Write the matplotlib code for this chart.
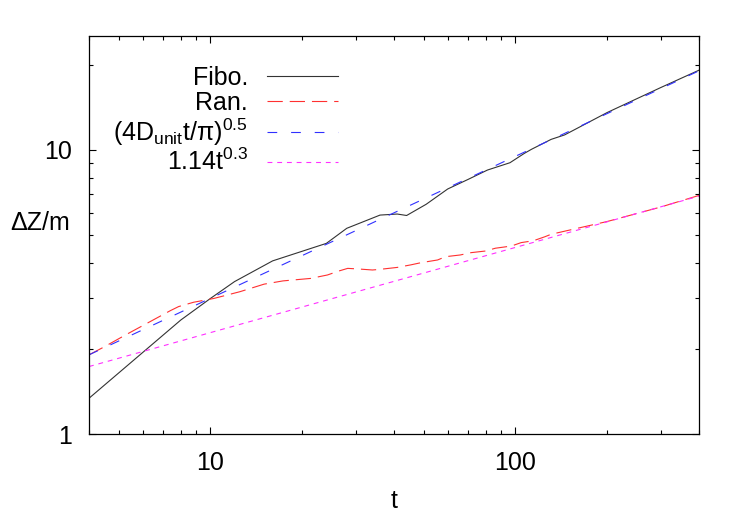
import numpy as np
import matplotlib
matplotlib.use("Agg")
import matplotlib.pyplot as plt
from matplotlib.ticker import LogLocator, NullFormatter, FixedLocator, FixedFormatter

plt.rcParams['font.family'] = ['Liberation Sans', 'DejaVu Sans']
plt.rcParams['mathtext.fontset'] = 'custom'
plt.rcParams['mathtext.rm'] = 'Liberation Sans'
plt.rcParams['mathtext.it'] = 'Liberation Sans'
plt.rcParams['lines.scale_dashes'] = False

# ---- data ----
fibo_t = [4, 8, 10, 12, 16, 24, 28, 36, 41, 44, 51, 60, 70, 81, 96, 107, 113, 131, 145, 200, 300, 400]
fibo_v = [1.336, 2.52, 3.0, 3.44, 4.07, 4.69, 5.30, 5.90, 5.95, 5.88, 6.44, 7.29, 7.88, 8.5, 9.02,
          9.73, 10.06, 10.9, 11.3, 13.55, 16.6, 19.1]

ran_t = [4, 4.46, 5.26, 6.27, 7.4, 7.87, 8.81, 10.25, 12.5, 15.0, 17.3, 21.3, 24.2, 26.4, 28.2, 30.7,
         34, 36, 41, 45.4, 49, 55.6, 59, 66, 71.5, 80, 86, 97, 104.5, 114.5, 125, 131, 200, 300, 400]
ran_v = [1.90, 2.02, 2.23, 2.47, 2.72, 2.81, 2.91, 3.0, 3.17, 3.37, 3.46, 3.53, 3.63, 3.75, 3.83, 3.81,
         3.78, 3.80, 3.86, 3.94, 4.01, 4.10, 4.21, 4.27, 4.35, 4.41, 4.51, 4.59, 4.72, 4.79, 4.95, 5.05,
         5.6, 6.3, 6.92]

# theory curves given by the legend formulas
theory_t = np.geomspace(4, 400, 200)
diff_coef = 0.95          # (4 D_unit / pi)^0.5
fit_coef, fit_exp = 1.14, 0.3

labels = ['Fibo.', 'Ran.', r'(4D$_{\mathrm{unit}}$t/π)$^{0.5}$', r'1.14t$^{0.3}$']
xlabel = 't'
ylabel = 'ΔZ/m'

fig = plt.figure(figsize=(7.5, 5.25), dpi=100)
ax = fig.add_axes([89/750, 1-434/525, (699-89)/750, (434-36)/525])

lw = 0.8
ax.plot(fibo_t, fibo_v, color='#333333', lw=lw, label=labels[0])
ax.plot(ran_t, ran_v, color='#ff3030', lw=lw, dashes=(11, 5), label=labels[1])
ax.plot(theory_t, diff_coef*np.sqrt(theory_t), color='#3030ff', lw=lw, dashes=(7, 10), label=labels[2])
ax.plot(theory_t, fit_coef*theory_t**fit_exp, color='#ff30ff', lw=lw, dashes=(3.5, 3.5), label=labels[3])

ax.set_xscale('log')
ax.set_yscale('log')
ax.set_xlim(4, 400)
ax.set_ylim(1, 25.2)

ax.xaxis.set_major_locator(FixedLocator([10, 100]))
ax.xaxis.set_major_formatter(FixedFormatter(['10', '100']))
ax.xaxis.set_minor_locator(LogLocator(base=10, subs=np.arange(2, 10)))
ax.xaxis.set_minor_formatter(NullFormatter())
ax.yaxis.set_major_locator(FixedLocator([1, 10]))
ax.yaxis.set_major_formatter(FixedFormatter(['1', '10']))
ax.yaxis.set_minor_locator(LogLocator(base=10, subs=np.arange(2, 10)))
ax.yaxis.set_minor_formatter(NullFormatter())

ax.tick_params(which='both', direction='in', top=True, right=True, labelsize=18, width=0.8)
ax.tick_params(which='major', length=5, pad=12)
ax.tick_params(which='minor', length=3)
for s in ax.spines.values():
    s.set_linewidth(0.9)

ax.set_xlabel(xlabel, fontsize=18, labelpad=10)
ax.set_ylabel(ylabel, fontsize=18, rotation=0, labelpad=0)
ax.yaxis.set_label_coords(-0.08, 0.5)

leg = ax.legend(loc='upper right', bbox_to_anchor=(0.408, 0.925), frameon=False, fontsize=18,
                markerfirst=False, handlelength=2.85, handletextpad=0.75, labelspacing=0.05,
                borderpad=0, borderaxespad=0)
for col in leg._legend_handle_box.get_children():
    col.align = 'right'

fig.savefig('out.png', dpi=100)
